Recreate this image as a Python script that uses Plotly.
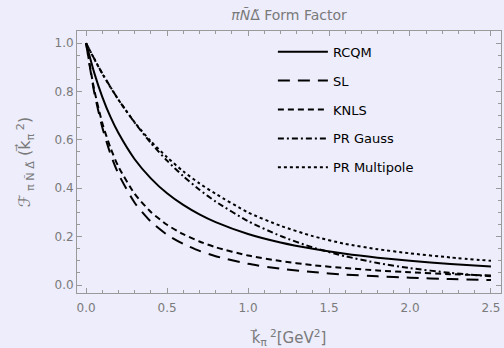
import plotly.graph_objects as go

x_vals = [0.0, 0.05, 0.1, 0.15, 0.2, 0.3, 0.4, 0.5, 0.6, 0.7, 0.8, 1.0, 1.2, 1.4, 1.6, 1.8, 2.0, 2.25, 2.5]

rcqm = [1.0, 0.878, 0.778, 0.696, 0.628, 0.520, 0.441, 0.379, 0.331, 0.292, 0.260, 0.211, 0.176, 0.150, 0.129, 0.113, 0.100, 0.087, 0.077]
sl = [1.0, 0.798, 0.652, 0.543, 0.459, 0.340, 0.262, 0.208, 0.170, 0.141, 0.119, 0.0875, 0.0672, 0.0533, 0.0432, 0.0358, 0.0301, 0.0247, 0.0207]
knls = [1.0, 0.808, 0.670, 0.568, 0.489, 0.377, 0.302, 0.249, 0.210, 0.180, 0.156, 0.122, 0.099, 0.082, 0.070, 0.060, 0.053, 0.045, 0.039]
pr_gauss = [1.0, 0.936, 0.875, 0.819, 0.766, 0.671, 0.587, 0.514, 0.450, 0.394, 0.345, 0.264, 0.203, 0.155, 0.119, 0.091, 0.070, 0.050, 0.036]
pr_multipole = [1.0, 0.935, 0.874, 0.818, 0.766, 0.672, 0.594, 0.528, 0.470, 0.420, 0.377, 0.300, 0.245, 0.202, 0.170, 0.148, 0.131, 0.114, 0.100]

series_names = ["RCQM", "SL", "KNLS", "PR Gauss", "PR Multipole"]
series_data = [rcqm, sl, knls, pr_gauss, pr_multipole]
dashes = ["solid", "12px,8px", "6px,4px", "6px,3px,2px,3px", "3px,3px"]

x_ticks = [0.0, 0.5, 1.0, 1.5, 2.0, 2.5]
y_ticks = [0.0, 0.2, 0.4, 0.6, 0.8, 1.0]

bg = "#EDEDFB"
grey = "#7a7a7a"

fig = go.Figure()
for i, (name, ys, d) in enumerate(zip(series_names, series_data, dashes)):
    fig.add_trace(go.Scatter(
        x=x_vals, y=ys, mode="lines", name=name,
        line=dict(color="black", width=2, dash=d, shape="spline", smoothing=0.6),
        legendgroup=f"g{i}",
    ))

axis_common = dict(
    showgrid=False, zeroline=False, showline=True, linecolor="#9a9a9a", linewidth=1,
    mirror="ticks", ticks="inside", ticklen=5, tickcolor="#9a9a9a", tickwidth=1,
    tickfont=dict(family="DejaVu Sans", size=12, color=grey),
)

fig.update_layout(
    width=504, height=348,
    paper_bgcolor=bg, plot_bgcolor=bg,
    margin=dict(l=77, r=3, t=31, b=55),
    font=dict(family="DejaVu Sans", color=grey),
    title=dict(text="<i>πÑ</i>Δ̃ Form Factor", x=(77 + 501) / 2 / 504, xanchor="center",
               y=1 - 15 / 348, yanchor="middle",
               font=dict(family="DejaVu Sans", size=14, color=grey)),
    showlegend=True,
    legend=dict(x=0.462, y=0.978, xanchor="left", yanchor="top",
                bgcolor="rgba(0,0,0,0)", font=dict(family="DejaVu Sans", size=13, color="black"),
                traceorder="grouped", tracegroupgap=9, itemwidth=50),
    xaxis=dict(range=[-0.056, 2.562], tickvals=x_ticks, ticktext=[f"{v:.1f}" for v in x_ticks],
               ticklabelstandoff=4,
               minor=dict(dtick=0.1, tick0=0, ticks="inside", ticklen=3, tickcolor="#9a9a9a"),
               title=dict(text="k⃗<sub>π</sub><sup> 2</sup>[GeV<sup>2</sup>]", standoff=19,
                          font=dict(family="DejaVu Sans", size=15, color=grey)),
               **axis_common),
    yaxis=dict(range=[-0.033, 1.05], tickvals=y_ticks, ticktext=[f"{v:.1f}" for v in y_ticks],
               minor=dict(dtick=0.05, tick0=0, ticks="inside", ticklen=3, tickcolor="#9a9a9a"),
               title=dict(text="ℱ<sub> π Ñ Δ̃</sub> (k⃗<sub>π</sub><sup> 2</sup>)", standoff=19,
                          font=dict(family="DejaVu Sans", size=16, color=grey)),
               **axis_common),
)

fig.write_html("out.html")
